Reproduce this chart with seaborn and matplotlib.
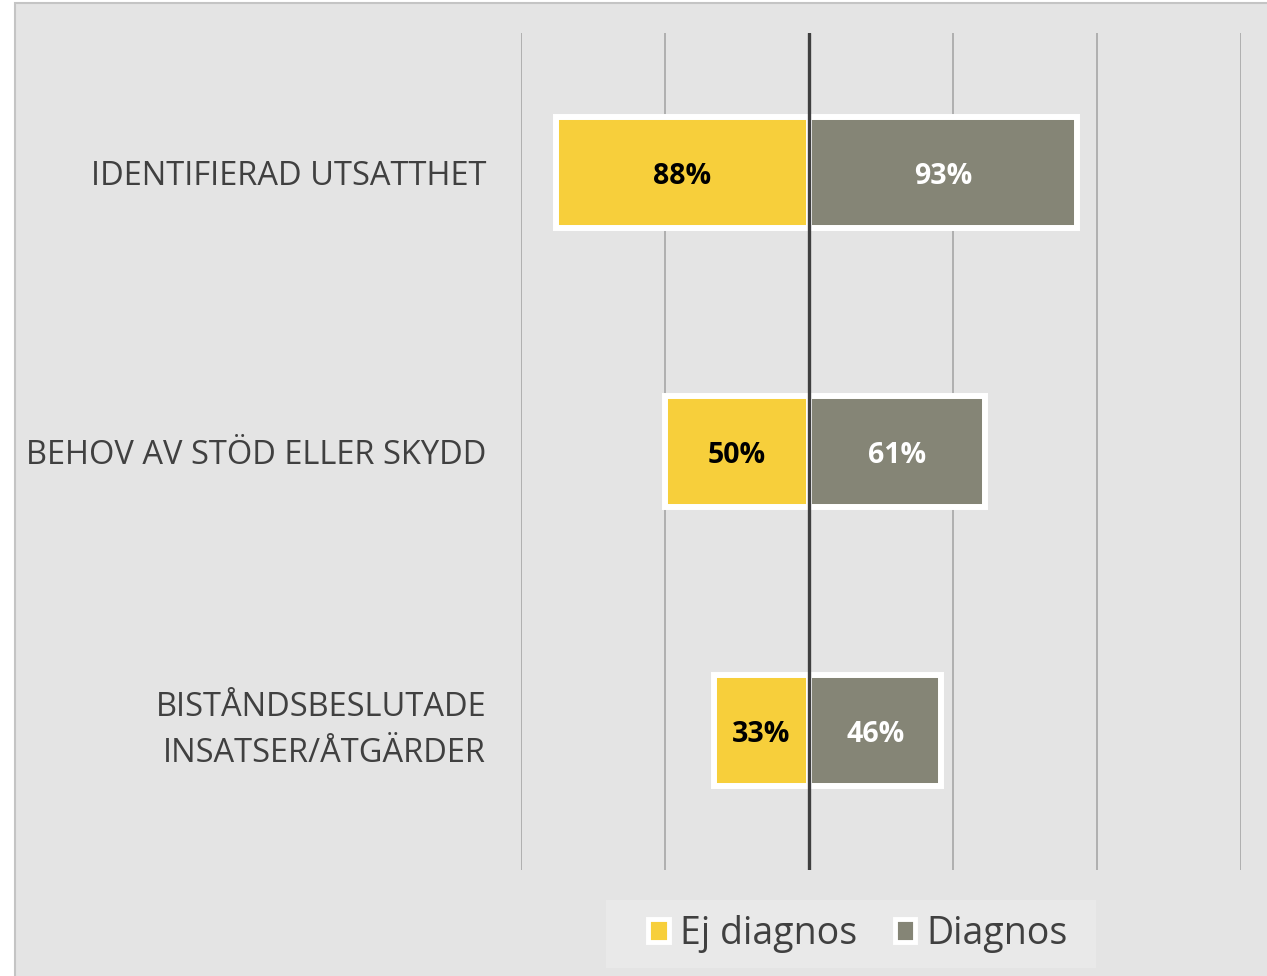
import pandas as pd
import matplotlib
matplotlib.use('Agg')
import matplotlib.pyplot as plt
import seaborn as sns
from matplotlib.patches import Rectangle

# Data
categories = ['IDENTIFIERAD UTSATTHET', 'BEHOV AV STÖD ELLER SKYDD',
              'BISTÅNDSBESLUTADE\nINSATSER/ÅTGÄRDER']
groups = ['Ej diagnos', 'Diagnos']
ej_diagnos = [88, 50, 33]
diagnos = [93, 61, 46]
colors = ['#F7CF3B', '#858576']

# Ej diagnos drawn to the left of zero
df = pd.DataFrame({
    'Kategori': categories * 2,
    'Grupp': [groups[0]] * 3 + [groups[1]] * 3,
    'Andel': [-v for v in ej_diagnos] + diagnos,
})

sns.set_theme(style='white')
plt.rcParams['font.family'] = ['Open Sans', 'DejaVu Sans']

W, H = 1267, 976
fig = plt.figure(figsize=(W / 100, H / 100), dpi=100)
fig.patch.set_facecolor('white')
fig.patches.append(Rectangle((15 / W, -0.01), 1.0, (H - 3) / H + 0.01,
                             transform=fig.transFigure, facecolor='#e4e4e4',
                             edgecolor='#c4c4c4', linewidth=1.5, zorder=-10))
# legend background
fig.patches.append(Rectangle((606 / W, 1 - 968 / H), (1096 - 606) / W, 68 / H,
                             transform=fig.transFigure, facecolor='#e9e9e9',
                             edgecolor='none', zorder=-9))

ax = fig.add_axes([521 / W, 1 - 870 / H, (1241 - 521) / W, (870 - 33) / H])
ax.set_facecolor('none')

sns.barplot(data=df, y='Kategori', x='Andel', hue='Grupp', hue_order=groups,
            palette=colors, saturation=1, dodge=False, orient='h', width=0.4,
            edgecolor='white', linewidth=4.3, ax=ax, zorder=3)

ax.set_xlim(-100, 150)
ax.set_ylim(2.5, -0.5)
for x in [-100, -50, 50, 100, 150]:
    ax.axvline(x, color='#a6a6a6', linewidth=1.2, zorder=1)
ax.axvline(0, color='#3f3f3f', linewidth=2.4, zorder=5)

for spine in ax.spines.values():
    spine.set_visible(False)
ax.set_xticks([])
ax.set_xlabel('')
ax.set_ylabel('')
ax.tick_params(axis='y', length=0, pad=25, labelsize=23.5, labelcolor='#404040')
for lbl in ax.get_yticklabels():
    lbl.set_linespacing(1.55)
    if '\n' in lbl.get_text():
        lbl.set_va('center')

# value labels inside the bars
for cont, vals, col in zip(ax.containers, [ej_diagnos, diagnos], ['black', 'white']):
    texts = ax.bar_label(cont, labels=[f'{v}%' for v in vals], label_type='center',
                         fontsize=20.5, fontweight='bold', color=col, zorder=6)
    for t in texts:
        t.set_va('center_baseline')

handles, labels = ax.get_legend_handles_labels()
ax.get_legend().remove()
leg = fig.legend(handles, labels, loc='center', bbox_to_anchor=(858 / W, 1 - 934 / H),
                 ncol=2, frameon=False, fontsize=27,
                 handlelength=0.55, handleheight=0.55, handletextpad=0.3,
                 columnspacing=1.0, borderpad=0.2, borderaxespad=0,
                 labelcolor='#404040')
for h in leg.legend_handles:
    h.set_edgecolor('white')
    h.set_linewidth(3.5)

fig.savefig('out.png', dpi=100)
